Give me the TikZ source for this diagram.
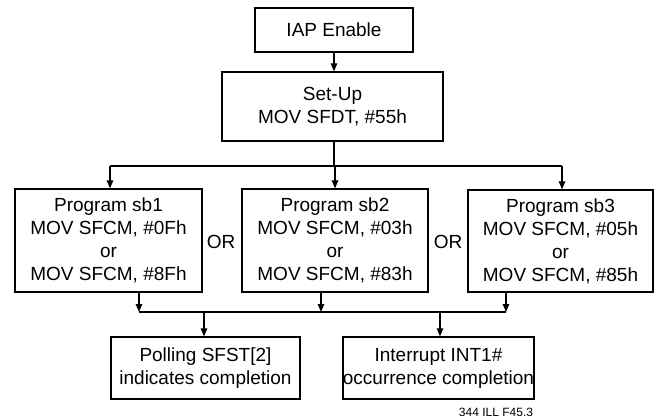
\documentclass[tikz,border=0pt]{standalone}
\usepackage{fontspec}
\setmainfont{Liberation Sans}
\usetikzlibrary{arrows.meta}
\begin{document}
\begin{tikzpicture}[x=1pt,y=-1pt,
  box/.style={draw,line width=1.3pt,inner sep=0pt,align=center,font=\fontsize{19}{23}\selectfont},
  arr/.style={line width=1.3pt,-{Triangle[length=8pt,width=6.5pt]}},
  ln/.style={line width=1.3pt},
  lbl/.style={font=\fontsize{19}{23}\selectfont,inner sep=0pt}]
\useasboundingbox (0,0) rectangle (655,419);
\node[box,minimum width=158pt,minimum height=44pt] (iap) at (334,30) {IAP Enable};
\node[box,minimum width=221pt,minimum height=69pt] (setup) at (332.5,106.5) {Set-Up\\MOV SFDT, \#55h};
\node[box,minimum width=187pt,minimum height=103pt] (sb1) at (108.5,240.5) {Program sb1\\MOV SFCM, \#0Fh\\or\\MOV SFCM, \#8Fh};
\node[box,minimum width=186pt,minimum height=103pt] (sb2) at (335,240.5) {Program sb2\\MOV SFCM, \#03h\\or\\MOV SFCM, \#83h};
\node[box,minimum width=185pt,minimum height=102pt] (sb3) at (560.5,241) {Program sb3\\MOV SFCM, \#05h\\or\\MOV SFCM, \#85h};
\node[lbl] (or1) at (221,242) {OR};
\node[lbl] (or2) at (448,242) {OR};
\node[box,minimum width=189pt,minimum height=62pt] (poll) at (205.5,368) {Polling SFST[2]\\indicates completion};
\node[box,minimum width=189pt,minimum height=62pt] (intr) at (438.5,368) {Interrupt INT1\#\\occurrence completion};
\node[font=\fontsize{12}{14}\selectfont,inner sep=0pt,anchor=base] (fig) at (496,416) {344 ILL F45.3};
% top
\draw[arr] (iap) -- (iap.south |- setup.north);
\coordinate (t0) at (334,166);
\coordinate (t1) at (110,166);
\coordinate (t2) at (335,166);
\coordinate (t3) at (562,166);
\draw[ln] (setup.south -| t0) -- (t0);
\draw[ln] (t1) -- (t3);
\draw[arr] (t1) -- (t1 |- sb1.north);
\draw[arr] (t2) -- (t2 |- sb2.north);
\draw[arr] (t3) -- (t3 |- sb3.north);
% bottom
\coordinate (b1) at (139,312);
\coordinate (b2) at (321,312);
\coordinate (b3) at (506,312);
\coordinate (p1) at (204,312);
\coordinate (p2) at (440,312);
\draw[arr] (sb1.south -| b1) -- (b1);
\draw[arr] (sb2.south -| b2) -- (b2);
\draw[arr] (sb3.south -| b3) -- (b3);
\draw[ln] (b1) -- (b3);
\draw[arr] (p1) -- (p1 |- poll.north);
\draw[arr] (p2) -- (p2 |- intr.north);
\end{tikzpicture}
\end{document}
